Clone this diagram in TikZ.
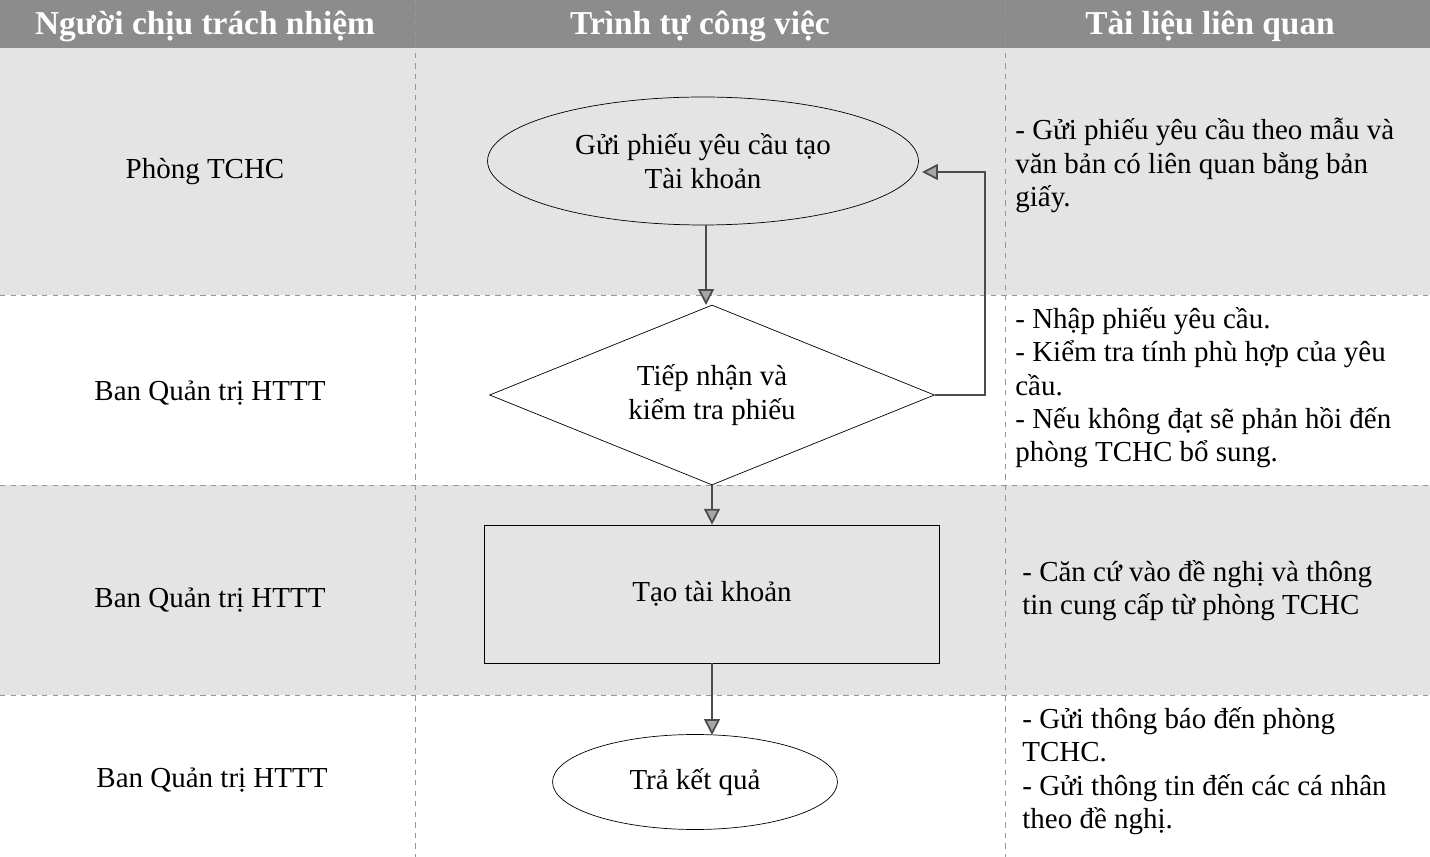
\documentclass[tikz,border=0pt]{standalone}
\usepackage{fontspec}
\setmainfont{Liberation Serif}
\usepackage{tikz}
\usetikzlibrary{shapes.geometric, arrows.meta, positioning, calc}
\definecolor{headgray}{RGB}{140, 140, 140}
\definecolor{rowgray}{RGB}{228, 228, 228}
\definecolor{linegray}{RGB}{150, 150, 150}

\begin{document}
\begin{tikzpicture}[
  x=0.02cm, y=-0.02cm,
  every node/.style={font=\fontsize{16.5}{19}\selectfont},
  headtext/.style={text=white, font=\fontsize{19}{22}\selectfont\bfseries},
  roletext/.style={anchor=center},
  notetext/.style={anchor=north west, align=left, inner sep=0pt},
  stepell/.style={draw, ellipse, inner sep=0pt, align=center},
  stepdia/.style={draw, diamond, aspect=2.5, inner sep=0pt, align=center, minimum width=8.9cm, minimum height=3.6cm},
  stepbox/.style={draw, rectangle, align=center, minimum width=9.1cm, minimum height=2.76cm},
  flow/.style={draw=black!70, line width=1pt, -{Triangle[length=9pt, width=9pt, fill=black!35]}},
  grid/.style={draw=linegray, dashed, line width=0.5pt}
]
  \useasboundingbox (0,0) rectangle (1430,857);

  % bands
  \fill[rowgray] (0,48) rectangle (1430,295);
  \fill[rowgray] (0,485) rectangle (1430,695);
  \fill[headgray] (0,0) rectangle (1430,48);
  \draw[grid] (0,295) -- (1430,295);
  \draw[grid] (0,485) -- (1430,485);
  \draw[grid] (0,695) -- (1430,695);
  \draw[grid] (415,0) -- (415,857);
  \draw[grid] (1005,0) -- (1005,857);

  % header
  \node[headtext] (hnguoi) at (205,26) {Người chịu trách nhiệm};
  \node[headtext] (htrinhtu) at (700,26) {Trình tự công việc};
  \node[headtext] (htailieu) at (1210,26) {Tài liệu liên quan};

  % who
  \node[roletext] (ai1) at (205,172) {Phòng TCHC};
  \node[roletext] (ai2) at (210,393) {Ban Quản trị HTTT};
  \node[roletext] (ai3) at (210,600) {Ban Quản trị HTTT};
  \node[roletext] (ai4) at (212,780) {Ban Quản trị HTTT};

  % steps
  \node[stepell, minimum width=8.62cm, minimum height=2.56cm] (guiphieu) at (703,161) {Gửi phiếu yêu cầu tạo\\Tài khoản};
  \node[stepdia] (tiepnhan) at (712,395) {Tiếp nhận và\\kiểm tra phiếu};
  \node[stepbox] (taotk) at (712,594) {Tạo tài khoản};
  \node[stepell, minimum width=5.7cm, minimum height=1.9cm] (traketqua) at (695,782) {Trả kết quả};

  \draw[flow] (guiphieu.south -| 706,0) -- (706,305);
  \draw[flow] (tiepnhan.south) -- (taotk.north);
  \draw[flow] (taotk.south) -- (712,735);
  \coordinate (vongve) at (985,172);
  \draw[flow] (tiepnhan.east) -| (vongve) -- (922,172);

  % documents
  \node[notetext] (tl1) at (1015,118) {- Gửi phiếu yêu cầu theo mẫu và\\văn bản có liên quan bằng bản\\giấy.};
  \node[notetext] (tl2) at (1015,307) {- Nhập phiếu yêu cầu.\\- Kiểm tra tính phù hợp của yêu\\cầu.\\- Nếu không đạt sẽ phản hồi đến\\phòng TCHC bổ sung.};
  \node[notetext] (tl3) at (1022,560) {- Căn cứ vào đề nghị và thông\\tin cung cấp từ phòng TCHC};
  \node[notetext] (tl4) at (1022,707) {- Gửi thông báo đến phòng\\TCHC.\\- Gửi thông tin đến các cá nhân\\theo đề nghị.};
\end{tikzpicture}
\end{document}
